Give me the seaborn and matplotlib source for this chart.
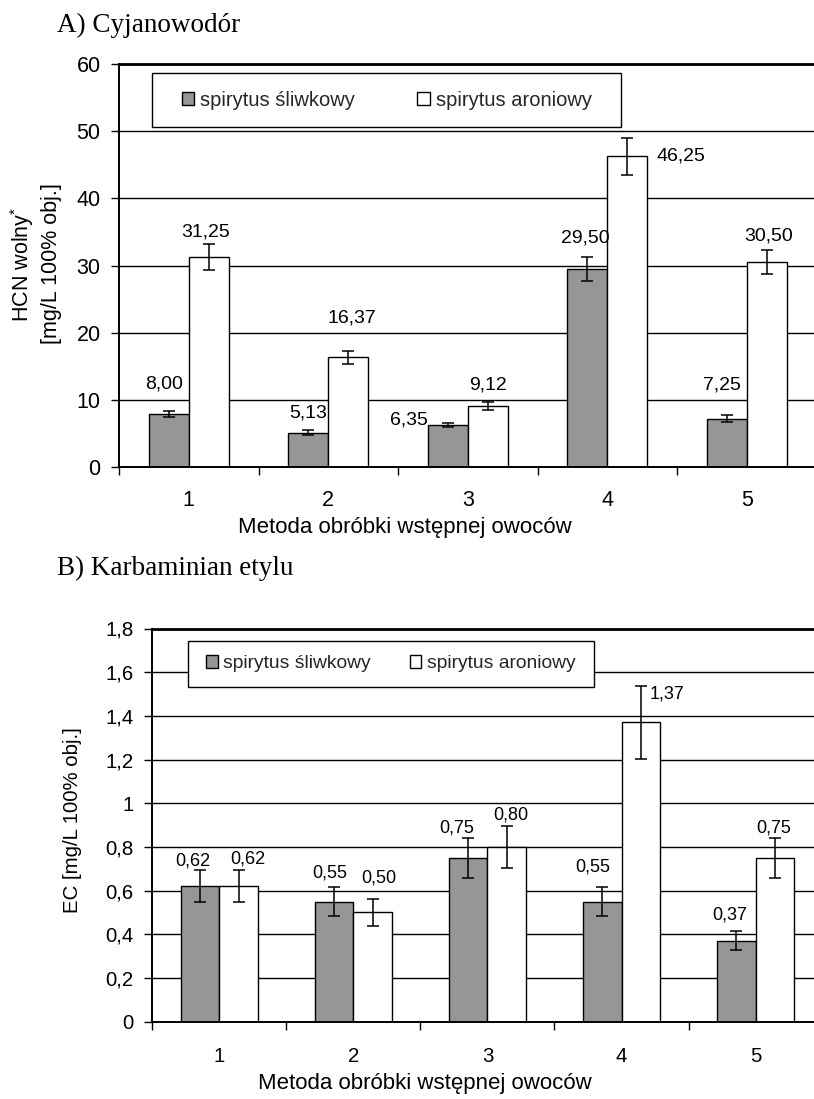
import numpy as np
import pandas as pd
import matplotlib
matplotlib.use("Agg")
import matplotlib.pyplot as plt
from matplotlib.patches import Rectangle
from matplotlib.ticker import FixedLocator
import seaborn as sns

# ---------------- data ----------------
methods = ["1", "2", "3", "4", "5"]
series = ["spirytus śliwkowy", "spirytus aroniowy"]

hcn_sliwkowy = [8.00, 5.13, 6.35, 29.50, 7.25]
hcn_aroniowy = [31.25, 16.37, 9.12, 46.25, 30.50]
hcn_err_sliwkowy = [0.45, 0.35, 0.30, 1.80, 0.47]
hcn_err_aroniowy = [1.90, 1.00, 0.60, 2.75, 1.80]

ec_sliwkowy = [0.62, 0.55, 0.75, 0.55, 0.37]
ec_aroniowy = [0.62, 0.50, 0.80, 1.37, 0.75]
ec_err_sliwkowy = [0.074, 0.065, 0.092, 0.065, 0.044]
ec_err_aroniowy = [0.074, 0.060, 0.098, 0.166, 0.090]

hcn_yticks = [0, 10, 20, 30, 40, 50, 60]
hcn_yticklabels = ["0", "10", "20", "30", "40", "50", "60"]
ec_yticks = [0, 0.2, 0.4, 0.6, 0.8, 1.0, 1.2, 1.4, 1.6, 1.8]
ec_yticklabels = ["0", "0,2", "0,4", "0,6", "0,8", "1", "1,2", "1,4", "1,6", "1,8"]

title_a = "A) Cyjanowodór"
title_b = "B) Karbaminian etylu"
xlabel = "Metoda obróbki wstępnej owoców"
ylabel_a1 = "HCN wolny$^{*}$"
ylabel_a2 = "[mg/L 100% obj.]"
ylabel_b = "EC [mg/L 100% obj.]"

# ---------------- style ----------------
sns.set_theme(style="white")
plt.rcParams["font.family"] = ["Liberation Sans", "DejaVu Sans"]
plt.rcParams["mathtext.default"] = "regular"

colors = {series[0]: "#969696", series[1]: "#ffffff"}

# label offsets in pixels (dx, dy) relative to bar top centre
lab_off_a = [[(-5, 30), (0, 20), (-39, 5), (-2, 31), (-5, 34)],
             [(-3, 25), (4, 39), (0, 21), (54, 0), (2, 26)]]
lab_off_b = [[(-7, 25), (-4, 29), (-12, 29.5), (-10, 35), (-7, 26)],
             [(9, 27), (6, 34), (4, 32), (26, 28), (-1, 30)]]

W, H = 814, 1099
fig = plt.figure(figsize=(W / 100, H / 100), dpi=100)


def fx(px):
    return px / W


def fy(py):
    return 1 - py / H


def axes_px(left, top, right, bottom):
    return fig.add_axes([fx(left), fy(bottom), (right - left) / W, (bottom - top) / H])


def make_df(a, b):
    return pd.DataFrame({
        "metoda": methods * 2,
        "seria": [series[0]] * len(methods) + [series[1]] * len(methods),
        "wartosc": list(a) + list(b),
    })


def draw_panel(ax, vals_a, vals_b, err_a, err_b, yticks, yticklabels, ylim,
               offsets, lab_fs, tick_fs, xpad, legend_left, legend_cy, legend_fs,
               colsp, box):
    df = make_df(vals_a, vals_b)
    sns.barplot(data=df, x="metoda", y="wartosc", hue="seria", order=methods,
                hue_order=series, palette=colors, width=0.573, saturation=1,
                edgecolor="black", linewidth=1.0, errorbar=None, legend=False,
                ax=ax, zorder=2)
    bar_conts = list(ax.containers)
    errs = [err_a, err_b]
    vals = [vals_a, vals_b]
    for k, cont in enumerate(bar_conts):
        xs = [p.get_x() + p.get_width() / 2 for p in cont.patches]
        ax.errorbar(xs, vals[k], yerr=errs[k], fmt="none", ecolor="black",
                    elinewidth=1.1, capsize=4.0, capthick=1.1, zorder=3)
        for x, v, (dx, dy) in zip(xs, vals[k], offsets[k]):
            ax.annotate(f"{v:.2f}".replace(".", ","), xy=(x, v), xytext=(dx, dy),
                        textcoords="offset pixels", ha="center", va="center",
                        fontsize=lab_fs, color="black", zorder=6)
    ax.set_xlim(-0.5, len(methods) - 0.5)
    ax.set_ylim(*ylim)
    ax.set_yticks(yticks)
    ax.set_yticklabels(yticklabels, fontsize=tick_fs)
    ax.set_xticks(range(len(methods)))
    ax.set_xticklabels(methods, fontsize=tick_fs)
    ax.xaxis.set_minor_locator(FixedLocator(np.arange(-0.5, len(methods), 1.0)))
    ax.tick_params(axis="x", which="major", length=0, pad=xpad, colors="black")
    ax.tick_params(axis="x", which="minor", length=5.8, width=1.0, direction="out",
                   color="black", bottom=True)
    ax.tick_params(axis="y", which="major", length=5.8, width=1.0, direction="out",
                   pad=7.5, color="black", left=True, labelcolor="black")
    ax.set_axisbelow(True)
    ax.yaxis.grid(True, color="black", linewidth=1.0)
    ax.xaxis.grid(False)
    for s in ["left", "bottom"]:
        ax.spines[s].set_visible(True)
        ax.spines[s].set_color("black")
        ax.spines[s].set_linewidth(1.4)
    ax.spines["top"].set_visible(True)
    ax.spines["top"].set_color("black")
    ax.spines["top"].set_linewidth(2.0)
    ax.spines["right"].set_visible(False)
    ax.set_xlabel("")
    ax.set_ylabel("")
    # legend box and legend
    bx0, by0, bx1, by1 = box
    ax.add_patch(Rectangle((fx(bx0), fy(by1)), (bx1 - bx0) / W, (by1 - by0) / H,
                           transform=fig.transFigure, facecolor="white",
                           edgecolor="black", linewidth=1.0, zorder=4, clip_on=False))
    leg = ax.legend(handles=bar_conts, labels=series, ncol=2,
                    loc="center left", bbox_to_anchor=(fx(legend_left), fy(legend_cy)),
                    bbox_transform=fig.transFigure, frameon=False, fontsize=legend_fs,
                    handlelength=0.6, handleheight=0.6, handletextpad=0.3,
                    columnspacing=colsp, borderpad=0, borderaxespad=0)
    leg.set_zorder(5)
    for h in leg.legend_handles:
        h.set_edgecolor("black")
        h.set_linewidth(1.0)


# ---------------- panel A ----------------
ax1 = axes_px(119, 64, 816.5, 467.3)
draw_panel(ax1, hcn_sliwkowy, hcn_aroniowy, hcn_err_sliwkowy, hcn_err_aroniowy,
           hcn_yticks, hcn_yticklabels, (0, 60), lab_off_a, 14, 15.5, 16,
           182, 100.2, 14.5, 3.1, (152.3, 73.3, 621, 127))

# ---------------- panel B ----------------
ax2 = axes_px(152.3, 628.5, 822.6, 1021.7)
draw_panel(ax2, ec_sliwkowy, ec_aroniowy, ec_err_sliwkowy, ec_err_aroniowy,
           ec_yticks, ec_yticklabels, (0, 1.8), lab_off_b, 13, 14.7, 18.5,
           206, 663.9, 13.9, 2.0, (187.7, 641, 594, 686.7))

# ---------------- texts ----------------
fig.text(fx(57), fy(25), title_a, family=["Liberation Serif", "DejaVu Serif"],
         fontsize=19.5, ha="left", va="center", color="black")
fig.text(fx(57), fy(568), title_b, family=["Liberation Serif", "DejaVu Serif"],
         fontsize=19.5, ha="left", va="center", color="black")
fig.text(fx(404.5), fy(527), xlabel, fontsize=16, ha="center", va="center", color="black")
fig.text(fx(425), fy(1084), xlabel, fontsize=16, ha="center", va="center", color="black")
fig.text(fx(22), fy(264), ylabel_a1, fontsize=15.5, rotation=90, ha="center",
         va="center", color="black")
fig.text(fx(52), fy(264), ylabel_a2, fontsize=15.5, rotation=90, ha="center",
         va="center", color="black")
fig.text(fx(72), fy(820), ylabel_b, fontsize=14.7, rotation=90, ha="center",
         va="center", color="black")

fig.savefig("out.png", dpi=100, facecolor="white")
